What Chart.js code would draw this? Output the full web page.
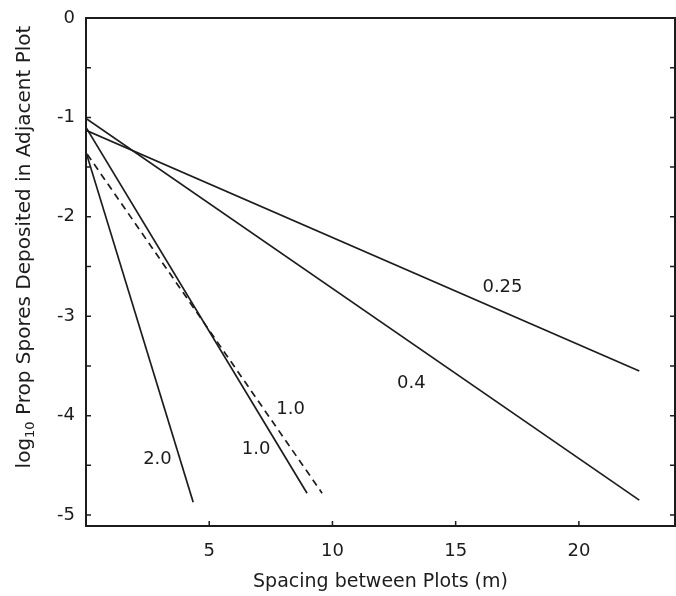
<!DOCTYPE html>
<html>
<head>
<meta charset="utf-8">
<script src="https://cdn.jsdelivr.net/npm/chart.js@4"></script>
<style>
  html, body { margin: 0; padding: 0; background: #fff; }
  #wrap { width: 676px; height: 596px; }
</style>
</head>
<body>
<div id="wrap"><canvas id="chart" width="676" height="596"></canvas></div>
<script>
// line end points (x = spacing m, y = log10 prop)
const line025X = [0, 22.45];
const line025Y = [-1.13, -3.55];
const line04X = [0, 22.45];
const line04Y = [-1.01, -4.85];
const line10X = [0, 8.97];
const line10Y = [-1.1, -4.78];
const line10dashX = [0.05, 9.58];
const line10dashY = [-1.37, -4.78];
const line20X = [0, 4.35];
const line20Y = [-1.35, -4.87];

// curve labels and where they sit
const curveLabels = ['0.25', '0.4', '1.0', '1.0', '2.0'];
const labelX = [16.9, 13.2, 8.3, 6.9, 2.9];
const labelY = [-2.71, -3.67, -3.94, -4.34, -4.44];

// axis ticks
const xTicks = [5, 10, 15, 20];
const yTicks = [0, -1, -2, -3, -4, -5];
const yMinorTicks = [-0.5, -1.5, -2.5, -3.5, -4.5];

const ink = '#1c1c1c';
const font = 'DejaVu Sans';

function pts(xs, ys) {
    return xs.map((x, i) => ({ x: x, y: ys[i] }));
}

// y title has a real subscript, so it is drawn here
function drawYTitle(ctx) {
    const main = '20px "' + font + '"';
    const sub = '13px "' + font + '"';
    const parts = [['log', main, 0], ['10', sub, 6], [' Prop Spores Deposited in Adjacent Plot', main, 0]];
    let total = 0;
    parts.forEach(p => { ctx.font = p[1]; total += ctx.measureText(p[0]).width; });
    ctx.save();
    ctx.translate(25, 247);
    ctx.rotate(-Math.PI / 2);
    ctx.textBaseline = 'middle';
    ctx.textAlign = 'left';
    let x = -total / 2;
    parts.forEach(p => {
        ctx.font = p[1];
        ctx.fillText(p[0], x, p[2]);
        x += ctx.measureText(p[0]).width;
    });
    ctx.restore();
}

// draws the frame, the inward tick marks and the curve labels
const framePlugin = {
    id: 'frame',
    afterDraw(chart) {
        const ctx = chart.ctx;
        const a = chart.chartArea;
        const xs = chart.scales.x;
        const ys = chart.scales.y;
        ctx.save();
        ctx.strokeStyle = ink;
        ctx.lineWidth = 2;
        ctx.strokeRect(a.left, a.top, a.right - a.left, a.bottom - a.top);

        ctx.lineWidth = 1.5;
        ctx.beginPath();
        xTicks.forEach(v => {
            const px = xs.getPixelForValue(v);
            ctx.moveTo(px, a.bottom);
            ctx.lineTo(px, a.bottom - 5);
        });
        yTicks.concat(yMinorTicks).forEach(v => {
            if (v === 0) return;
            const py = ys.getPixelForValue(v);
            ctx.moveTo(a.left, py);
            ctx.lineTo(a.left + 5, py);
            ctx.moveTo(a.right, py);
            ctx.lineTo(a.right - 5, py);
        });
        ctx.stroke();

        ctx.fillStyle = ink;
        ctx.font = '18px "' + font + '"';
        ctx.textAlign = 'center';
        ctx.textBaseline = 'middle';
        curveLabels.forEach((t, i) => {
            ctx.fillText(t, xs.getPixelForValue(labelX[i]), ys.getPixelForValue(labelY[i]));
        });
        drawYTitle(ctx);
        ctx.restore();
    }
};

function lineSet(label, xs, ys, dash) {
    return {
        label: label,
        data: pts(xs, ys),
        borderColor: ink,
        borderWidth: 1.7,
        borderDash: dash || [],
        pointRadius: 0,
        showLine: true,
        fill: false
    };
}

new Chart(document.getElementById('chart'), {
    type: 'scatter',
    data: {
        datasets: [
            lineSet('0.25', line025X, line025Y),
            lineSet('0.4', line04X, line04Y),
            lineSet('1.0', line10X, line10Y),
            lineSet('1.0 (dashed)', line10dashX, line10dashY, [7, 5]),
            lineSet('2.0', line20X, line20Y)
        ]
    },
    options: {
        responsive: false,
        animation: false,
        layout: { padding: { top: 18, right: 1, left: 0, bottom: 0 } },
        plugins: {
            legend: { display: false },
            tooltip: { enabled: false }
        },
        scales: {
            x: {
                type: 'linear',
                min: 0,
                max: 23.9,
                grid: { display: false },
                border: { display: false },
                afterBuildTicks: s => { s.ticks = xTicks.map(v => ({ value: v })); },
                afterFit: s => { s.height = 70; },
                ticks: {
                    color: ink,
                    padding: 7,
                    font: { family: font, size: 18 }
                },
                title: {
                    display: true,
                    text: 'Spacing between Plots (m)',
                    color: ink,
                    padding: { top: 0, bottom: 3 },
                    font: { family: font, size: 19 }
                }
            },
            y: {
                type: 'linear',
                min: -5.11,
                max: 0,
                grid: { display: false },
                border: { display: false },
                afterBuildTicks: s => { s.ticks = yTicks.map(v => ({ value: v })); },
                afterFit: s => { s.width = 86; },
                ticks: {
                    color: ink,
                    padding: 3,
                    font: { family: font, size: 18 }
                }
            }
        }
    },
    plugins: [framePlugin]
});
</script>
</body>
</html>
